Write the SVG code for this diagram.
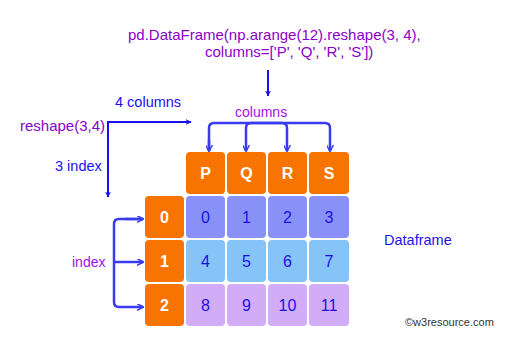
<svg xmlns="http://www.w3.org/2000/svg" width="518" height="349" viewBox="0 0 518 349">
<defs>
<style>
text{font-family:"Liberation Sans",Arial,sans-serif}
.purple{fill:#8a00c8;font-size:15px}
.blue{fill:#1a10ee;font-size:14.5px}
.hdr{fill:#f77400}
.r0{fill:#8892f6}
.r1{fill:#86c3f6}
.r2{fill:#d2acf6}
.ht{fill:#fff;font-size:16px;font-weight:bold;text-anchor:middle}
.dt{fill:#1c10e6;font-size:16px;text-anchor:middle}
.ln{fill:none;stroke:#1a10ee;stroke-width:2}
.br{fill:none;stroke:#3a3af0;stroke-width:2.5}
</style>
<marker id="ah" viewBox="0 0 10 10" refX="9" refY="5" markerWidth="6" markerHeight="6" orient="auto" markerUnits="userSpaceOnUse">
<path d="M0,0 L10,5 L0,10 L3,5 Z" fill="#1a10ee"/>
</marker>
<marker id="ab" viewBox="0 0 10 10" refX="9" refY="5" markerWidth="7" markerHeight="7" orient="auto" markerUnits="userSpaceOnUse">
<path d="M0,0 L10,5 L0,10" fill="none" stroke="#3a3af0" stroke-width="2"/>
</marker>
</defs>
<rect width="518" height="349" fill="#fff"/>
<g id="code">
<text class="purple" x="128" y="40">pd.DataFrame(np.arange(12).reshape(3, 4),</text>
<text class="purple" x="205" y="57">columns=['P', 'Q', 'R', 'S'])</text>
</g>
<text class="blue" x="115" y="107">4 columns</text>
<text class="purple" x="20" y="131">reshape(3,4)</text>
<text class="blue" x="55" y="171">3 index</text>
<text fill="#a010e8" font-size="14" x="235" y="117">columns</text>
<text fill="#a010e8" font-size="14" x="72" y="267">index</text>
<text class="blue" x="384" y="245">Dataframe</text>
<text fill="#333" font-size="11" x="405" y="326">©w3resource.com</text>
<g id="connectors">
<line class="ln" x1="268" y1="70" x2="268" y2="96" marker-end="url(#ah)"/>
<path class="ln" d="M191,122 H108 V197" marker-end="url(#ah)"/>
<line class="ln" x1="108" y1="122" x2="191" y2="122" marker-end="url(#ah)"/>
<path class="br" d="M209,151 V128 Q209,123 214,123 H282 Q287,123 287,128 V151" marker-end="url(#ab)"/>
<line class="br" x1="209" y1="140" x2="209" y2="151" marker-end="url(#ab)"/>
<path class="br" d="M246,140 V128 Q246,123 251,123 H325 Q330,123 330,128 V151" marker-end="url(#ab)"/>
<line class="br" x1="246" y1="140" x2="246" y2="151" marker-end="url(#ab)"/>
<path class="br" d="M143,219 H119 Q114,219 114,224 V302 Q114,307 119,307 H143" marker-end="url(#ab)"/>
<line class="br" x1="125" y1="219" x2="143" y2="219" marker-end="url(#ab)"/>
<line class="br" x1="114" y1="262" x2="143" y2="262" marker-end="url(#ab)"/>
</g>
<g id="header">
<rect class="hdr" x="186" y="152" width="39" height="42" rx="4"/>
<rect class="hdr" x="227" y="152" width="39" height="42" rx="4"/>
<rect class="hdr" x="268" y="152" width="39" height="42" rx="4"/>
<rect class="hdr" x="309" y="152" width="40" height="42" rx="4"/>
<text class="ht" x="205.5" y="179">P</text>
<text class="ht" x="246.5" y="179">Q</text>
<text class="ht" x="287.5" y="179">R</text>
<text class="ht" x="329" y="179">S</text>
</g>
<g id="index">
<rect class="hdr" x="145" y="196" width="39" height="42" rx="4"/>
<rect class="hdr" x="145" y="240" width="39" height="42" rx="4"/>
<rect class="hdr" x="145" y="284" width="39" height="42" rx="4"/>
<text class="ht" x="164.5" y="223">0</text>
<text class="ht" x="164.5" y="267">1</text>
<text class="ht" x="164.5" y="311">2</text>
</g>
<g id="row0">
<rect class="r0" x="186" y="196" width="39" height="42" rx="4"/>
<rect class="r0" x="227" y="196" width="39" height="42" rx="4"/>
<rect class="r0" x="268" y="196" width="39" height="42" rx="4"/>
<rect class="r0" x="309" y="196" width="40" height="42" rx="4"/>
<text class="dt" x="205.5" y="223">0</text>
<text class="dt" x="246.5" y="223">1</text>
<text class="dt" x="287.5" y="223">2</text>
<text class="dt" x="329" y="223">3</text>
</g>
<g id="row1">
<rect class="r1" x="186" y="240" width="39" height="42" rx="4"/>
<rect class="r1" x="227" y="240" width="39" height="42" rx="4"/>
<rect class="r1" x="268" y="240" width="39" height="42" rx="4"/>
<rect class="r1" x="309" y="240" width="40" height="42" rx="4"/>
<text class="dt" x="205.5" y="267">4</text>
<text class="dt" x="246.5" y="267">5</text>
<text class="dt" x="287.5" y="267">6</text>
<text class="dt" x="329" y="267">7</text>
</g>
<g id="row2">
<rect class="r2" x="186" y="284" width="39" height="42" rx="4"/>
<rect class="r2" x="227" y="284" width="39" height="42" rx="4"/>
<rect class="r2" x="268" y="284" width="39" height="42" rx="4"/>
<rect class="r2" x="309" y="284" width="40" height="42" rx="4"/>
<text class="dt" x="205.5" y="311">8</text>
<text class="dt" x="246.5" y="311">9</text>
<text class="dt" x="287.5" y="311">10</text>
<text class="dt" x="329" y="311">11</text>
</g>
</svg>
